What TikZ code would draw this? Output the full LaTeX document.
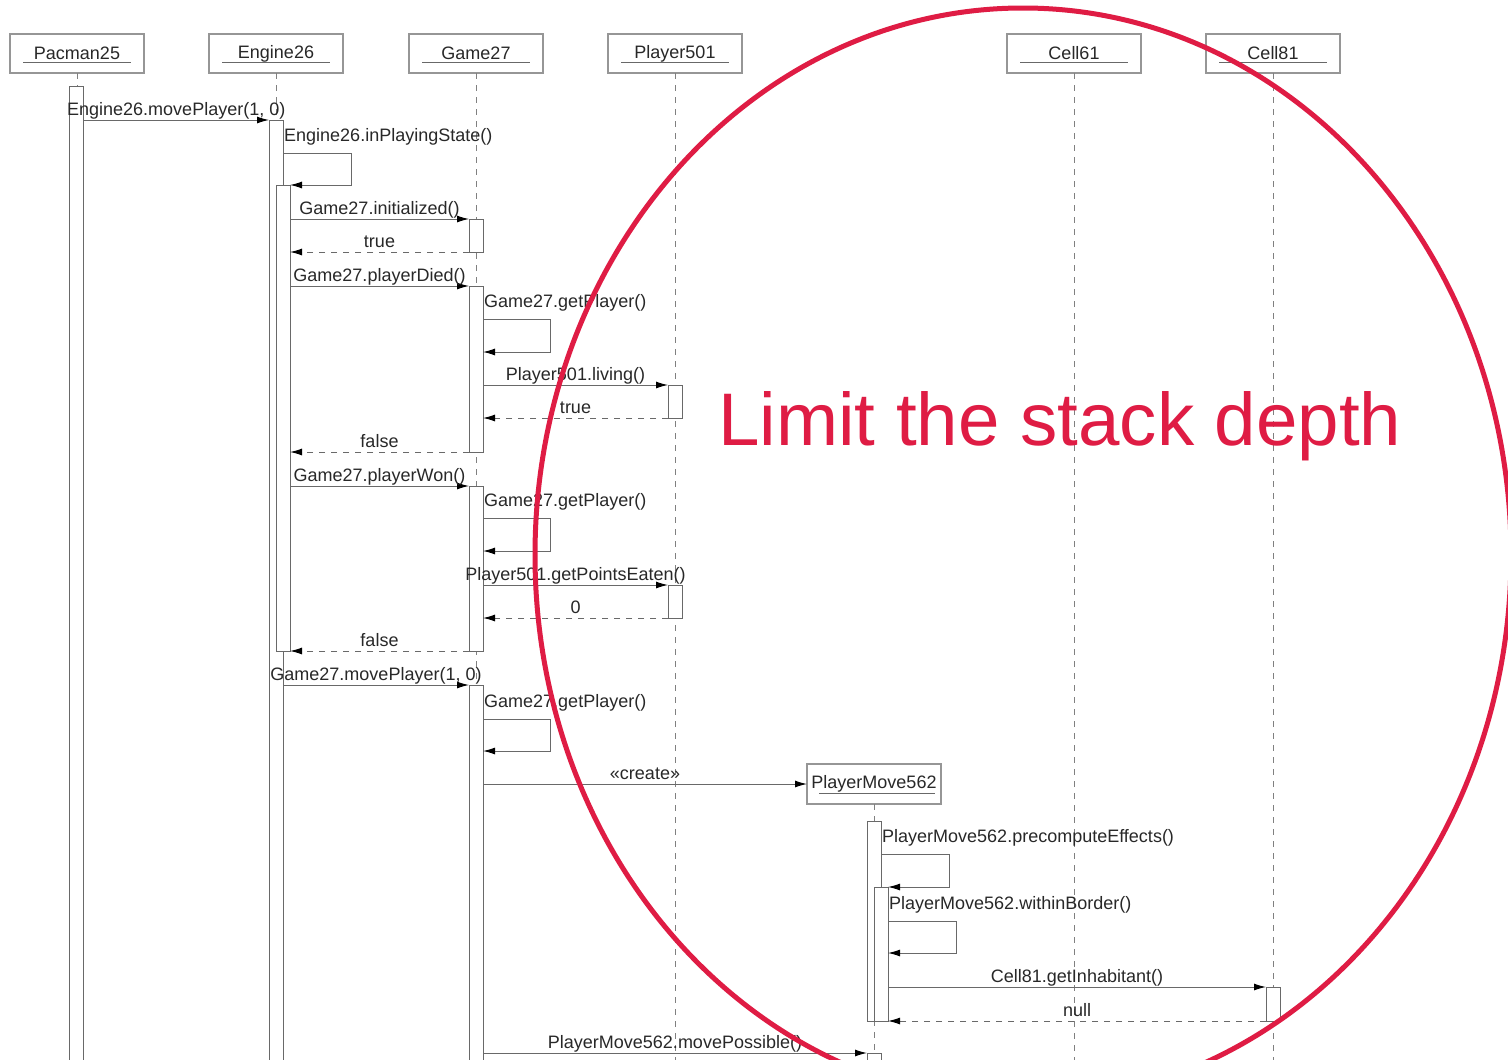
\documentclass[tikz,border=0pt]{standalone}
\usepackage{fontspec}
\setmainfont{Liberation Sans}
\usetikzlibrary{arrows.meta,calc}
\definecolor{lineg}{RGB}{105,105,105}
\definecolor{boxg}{RGB}{150,150,150}
\definecolor{txt}{RGB}{40,40,40}
\definecolor{hl}{RGB}{223,28,68}
\tikzset{
  objbox/.style={draw=boxg, line width=1.3pt, fill=white, minimum width=134pt, minimum height=39pt,
    inner sep=0pt, outer sep=0pt, text=txt, font=\fontsize{18}{18}\selectfont},
  actbar/.style={draw=lineg, line width=1pt, fill=white, minimum width=14pt, inner sep=0pt,
    outer sep=0pt, anchor=north west},
  lifeline/.style={draw=lineg!85, line width=1pt, dash pattern=on 6pt off 6pt},
  msg/.style={draw=lineg, line width=1pt, -{Latex[length=12pt,width=7pt,color=black]}},
  ret/.style={msg, dash pattern=on 6pt off 6pt},
  lbl/.style={text=txt, font=\fontsize{18}{18}\selectfont, inner sep=0pt, anchor=base},
  selflbl/.style={lbl, anchor=base west},
  underl/.style={draw=txt!70, line width=1pt},
}
\begin{document}
\begin{tikzpicture}[x=1pt,y=-1pt]
\useasboundingbox (0,0) rectangle (1508,1060);
\clip (0,0) rectangle (1508,1060);
\fill[white] (0,0) rectangle (1508,1060);
\coordinate (bottom) at (0,1062);

% object boxes
\node[objbox] (pac) at (77,53.5) {Pacman25};
\node[objbox] (eng) at (276,53.5) {Engine26};
\node[objbox] (game) at (476,53.5) {Game27};
\node[objbox] (play) at (675,53.5) {Player501};
\node[objbox] (c61) at (1074,53.5) {Cell61};
\node[objbox] (c81) at (1273,53.5) {Cell81};
\foreach \n in {pac,eng,game,play,c61,c81}{
  \draw[underl] ([xshift=13pt,yshift=11pt]\n.south west) -- ([xshift=-13pt,yshift=11pt]\n.south east);
}
\node[objbox, minimum width=134pt, minimum height=40pt] (pm) at (874,784) {PlayerMove562};
\draw[underl] ([xshift=12pt,yshift=11pt]pm.south west) -- ([xshift=-6pt,yshift=11pt]pm.south east);

% lifelines
\foreach \n in {pac,eng,game,play,c61,c81,pm}{
  \draw[lifeline] (\n.south) -- (\n.south |- bottom);
}

% y levels
\foreach \v in {120,153,185,219,252,286,319,352,385,418,452,486,518,551,585,618,651,685,719,751,784,854,887,921,953,987,1021,1053}{
  \coordinate (y\v) at (0,\v);
}

% activation bars
\node[actbar, minimum height=980pt] (pacbar) at (69.5,86) {};
\node[actbar, minimum height=945pt] (engbar1) at (269,120) {};
\node[actbar, minimum height=466pt] (engbar2) at (276,185) {};
\node[actbar, minimum height=33pt] (gbar1) at (469,219) {};
\node[actbar, minimum height=166pt] (gbar2) at (469,286) {};
\node[actbar, minimum height=33pt] (pbar1) at (668,385) {};
\node[actbar, minimum height=165pt] (gbar3) at (469,486) {};
\node[actbar, minimum height=33pt] (pbar2) at (668,585) {};
\node[actbar, minimum height=380pt] (gbar4) at (469,685) {};
\node[actbar, minimum height=200pt] (pmbar1) at (867,821) {};
\node[actbar, minimum height=134pt] (pmbar2) at (874,887) {};
\node[actbar, minimum height=34pt] (cbar) at (1266,987) {};
\node[actbar, minimum height=20pt] (pmbar3) at (867,1053) {};

% messages
\draw[msg] (pacbar.east |- y120) -- node[lbl, midway, yshift=5pt] {Engine26.movePlayer(1, 0)} (engbar1.west |- y120);

\draw[msg] (engbar1.east |- y153) -- ++(68,0) |- (engbar2.east |- y185);
\node[selflbl] (l1) at ([xshift=1pt,yshift=12pt]engbar1.east |- y153) {Engine26.inPlayingState()};

\draw[msg] (engbar2.east |- y219) -- node[lbl, midway, yshift=5pt] {Game27.initialized()} (gbar1.west |- y219);
\draw[ret] (gbar1.west |- y252) -- node[lbl, midway, yshift=5pt] {true} (engbar2.east |- y252);

\draw[msg] (engbar2.east |- y286) -- node[lbl, midway, yshift=5pt] {Game27.playerDied()} (gbar2.west |- y286);
\draw[msg] (gbar2.east |- y319) -- ++(67,0) |- (gbar2.east |- y352);
\node[selflbl] (l2) at ([xshift=1pt,yshift=12pt]gbar2.east |- y319) {Game27.getPlayer()};
\draw[msg] (gbar2.east |- y385) -- node[lbl, midway, yshift=5pt] {Player501.living()} (pbar1.west |- y385);
\draw[ret] (pbar1.west |- y418) -- node[lbl, midway, yshift=5pt] {true} (gbar2.east |- y418);
\draw[ret] (gbar2.west |- y452) -- node[lbl, midway, yshift=5pt] {false} (engbar2.east |- y452);

\draw[msg] (engbar2.east |- y486) -- node[lbl, midway, yshift=5pt] {Game27.playerWon()} (gbar3.west |- y486);
\draw[msg] (gbar3.east |- y518) -- ++(67,0) |- (gbar3.east |- y551);
\node[selflbl] (l3) at ([xshift=1pt,yshift=12pt]gbar3.east |- y518) {Game27.getPlayer()};
\draw[msg] (gbar3.east |- y585) -- node[lbl, midway, yshift=5pt] {Player501.getPointsEaten()} (pbar2.west |- y585);
\draw[ret] (pbar2.west |- y618) -- node[lbl, midway, yshift=5pt] {0} (gbar3.east |- y618);
\draw[ret] (gbar3.west |- y651) -- node[lbl, midway, yshift=5pt] {false} (engbar2.east |- y651);

\draw[msg] (engbar1.east |- y685) -- node[lbl, midway, yshift=5pt] {Game27.movePlayer(1, 0)} (gbar4.west |- y685);
\draw[msg] (gbar4.east |- y719) -- ++(67,0) |- (gbar4.east |- y751);
\node[selflbl] (l4) at ([xshift=1pt,yshift=12pt]gbar4.east |- y719) {Game27.getPlayer()};
\draw[msg] (gbar4.east |- y784) -- node[lbl, midway, yshift=5pt] {«create»} (pm.west);

\draw[msg] (pmbar1.east |- y854) -- ++(68,0) |- (pmbar2.east |- y887);
\node[selflbl] (l5) at ([xshift=1pt,yshift=12pt]pmbar1.east |- y854) {PlayerMove562.precomputeEffects()};
\draw[msg] (pmbar2.east |- y921) -- ++(68,0) |- (pmbar2.east |- y953);
\node[selflbl] (l6) at ([xshift=1pt,yshift=12pt]pmbar2.east |- y921) {PlayerMove562.withinBorder()};
\draw[msg] (pmbar2.east |- y987) -- node[lbl, midway, yshift=5pt] {Cell81.getInhabitant()} (cbar.west |- y987);
\draw[ret] (cbar.west |- y1021) -- node[lbl, midway, yshift=5pt] {null} (pmbar2.east |- y1021);

\draw[msg] (gbar4.east |- y1053) -- node[lbl, midway, yshift=5pt] {PlayerMove562.movePossible()} (pmbar3.west |- y1053);

% annotation
\node[anchor=base west, inner sep=0pt, text=hl, font=\fontsize{74.5}{74.5}\selectfont] (note) at (718,445) {Limit the stack depth};
\draw[hl, line width=5pt] (1023,555) ellipse [x radius=488pt, y radius=547pt];
\end{tikzpicture}
\end{document}
